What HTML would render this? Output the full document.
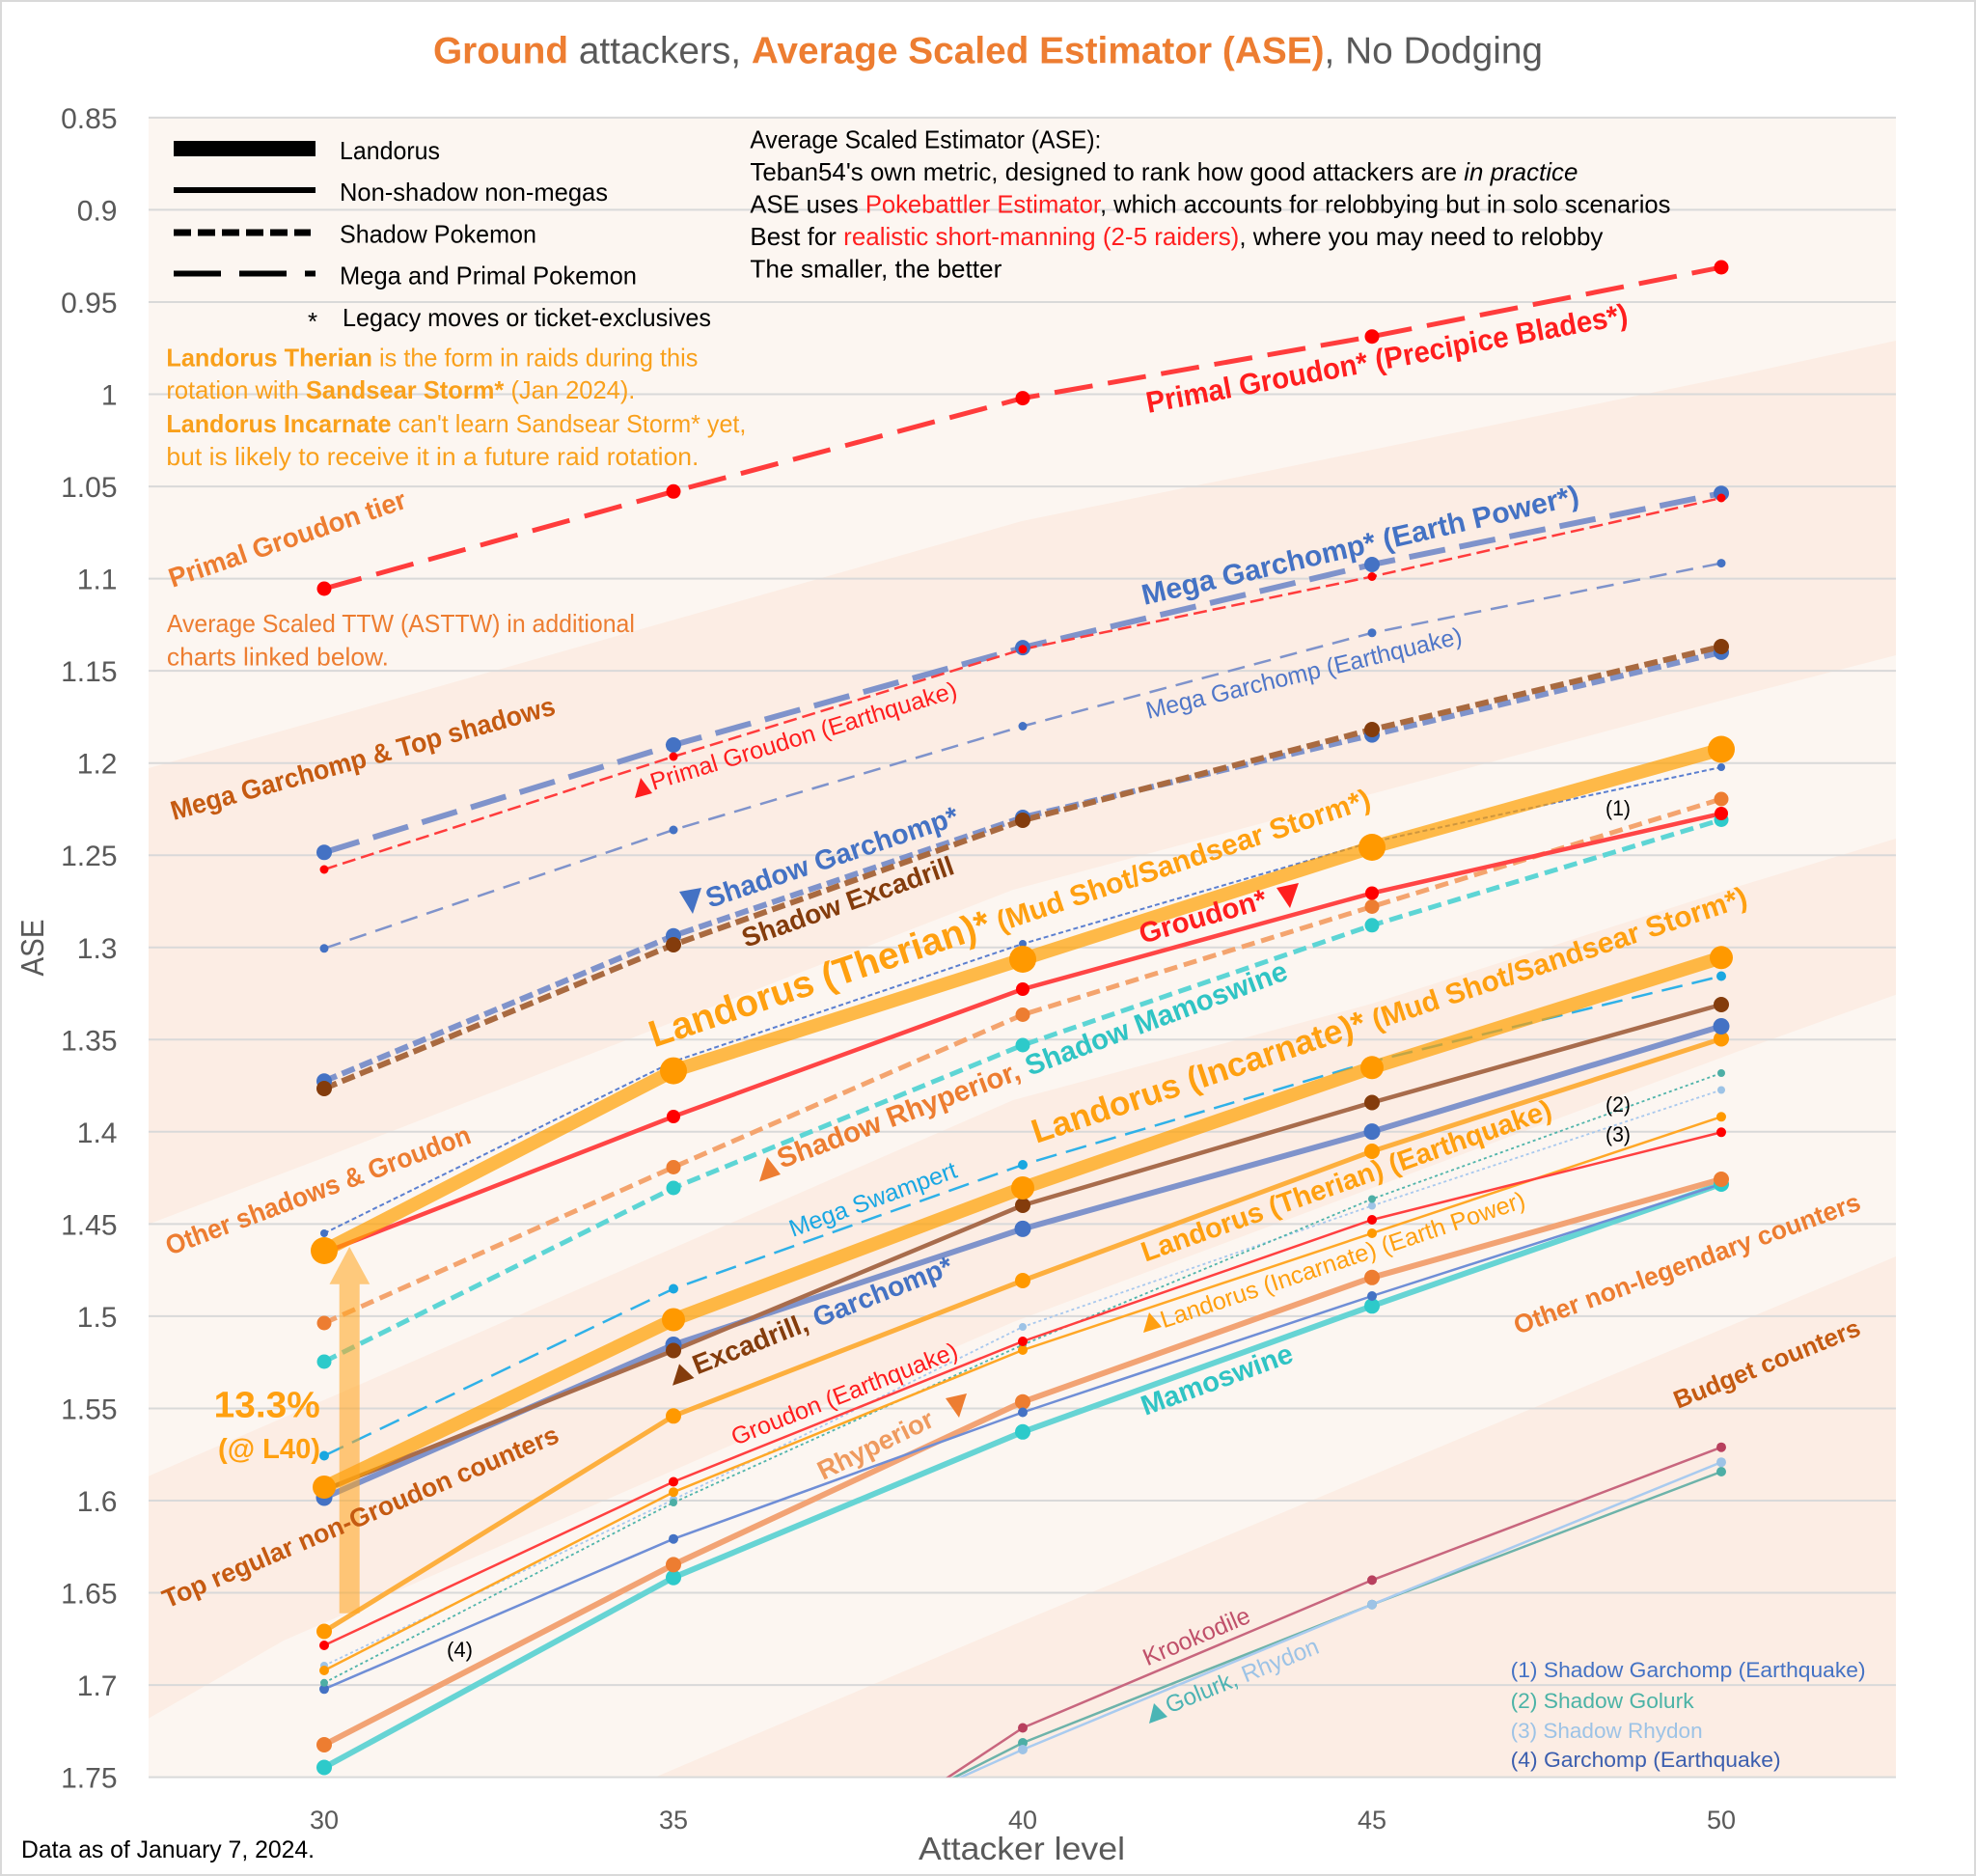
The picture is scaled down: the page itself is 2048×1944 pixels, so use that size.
<!DOCTYPE html>
<html><head><meta charset="utf-8"><style>
html,body{margin:0;padding:0;background:#fff;}
svg{display:block;}
</style></head><body>
<svg width="2048" height="1944" viewBox="0 0 2048 1944" xmlns="http://www.w3.org/2000/svg" font-family="'Liberation Sans', Arial, sans-serif">
<defs><clipPath id="pc"><rect x="154" y="121.9" width="1811" height="1719.7"/></clipPath></defs>
<rect x="1" y="1" width="2046" height="1942" fill="#fff" stroke="#D9D9D9" stroke-width="2"/>
<!-- plot bg -->
<rect x="154" y="121.9" width="1811" height="1719.7" fill="#FCF6F1"/>
<g fill="#FCEDE4" clip-path="url(#pc)">
<polygon points="154,796 340,744 1059,540 1800,389 1965,353 1965,679 1800,721.6 1050,922 340,1198 154,1268.5"/>
<polygon points="154,1529.6 340,1449 1050,1140 1422,1040 1800,919 1965,869 1965,1030.7 1800,1090 1050,1370 294,1700 154,1780.7"/>
<polygon points="679,1841.6 1012,1700 1050,1684 1800,1371 1965,1302 1965,1841.6"/>
</g>
<!-- gridlines -->
<g stroke="#D9D9D9" stroke-width="2">
<line x1="154" x2="1965" y1="121.9" y2="121.9"/><line x1="154" x2="1965" y1="217.4" y2="217.4"/><line x1="154" x2="1965" y1="313" y2="313"/><line x1="154" x2="1965" y1="408.5" y2="408.5"/><line x1="154" x2="1965" y1="504.1" y2="504.1"/><line x1="154" x2="1965" y1="599.6" y2="599.6"/><line x1="154" x2="1965" y1="695.1" y2="695.1"/><line x1="154" x2="1965" y1="790.7" y2="790.7"/><line x1="154" x2="1965" y1="886.2" y2="886.2"/><line x1="154" x2="1965" y1="981.8" y2="981.8"/><line x1="154" x2="1965" y1="1077.3" y2="1077.3"/><line x1="154" x2="1965" y1="1172.8" y2="1172.8"/><line x1="154" x2="1965" y1="1268.4" y2="1268.4"/><line x1="154" x2="1965" y1="1363.9" y2="1363.9"/><line x1="154" x2="1965" y1="1459.5" y2="1459.5"/><line x1="154" x2="1965" y1="1555" y2="1555"/><line x1="154" x2="1965" y1="1650.5" y2="1650.5"/><line x1="154" x2="1965" y1="1746.1" y2="1746.1"/><line x1="154" x2="1965" y1="1841.6" y2="1841.6"/>
</g>
<!-- y tick labels -->
<g font-size="30" fill="#595959" text-anchor="end">
<text x="121.5" y="132.9">0.85</text><text x="121.5" y="228.4">0.9</text><text x="121.5" y="324">0.95</text><text x="121.5" y="419.5">1</text><text x="121.5" y="515.1">1.05</text><text x="121.5" y="610.6">1.1</text><text x="121.5" y="706.1">1.15</text><text x="121.5" y="801.7">1.2</text><text x="121.5" y="897.2">1.25</text><text x="121.5" y="992.8">1.3</text><text x="121.5" y="1088.3">1.35</text><text x="121.5" y="1183.8">1.4</text><text x="121.5" y="1279.4">1.45</text><text x="121.5" y="1374.9">1.5</text><text x="121.5" y="1470.5">1.55</text><text x="121.5" y="1566">1.6</text><text x="121.5" y="1661.5">1.65</text><text x="121.5" y="1757.1">1.7</text><text x="121.5" y="1852.6">1.75</text>
</g>
<!-- x tick labels -->
<g font-size="27" fill="#595959" text-anchor="middle">
<text x="336" y="1895">30</text><text x="698" y="1895">35</text><text x="1060" y="1895">40</text><text x="1422" y="1895">45</text><text x="1784" y="1895">50</text>
</g>
<text x="1059" y="1927" font-size="33" fill="#595959" text-anchor="middle" textLength="214" lengthAdjust="spacingAndGlyphs">Attacker level</text>
<text transform="translate(45,982) rotate(-90)" font-size="33" fill="#595959" text-anchor="middle" textLength="59" lengthAdjust="spacingAndGlyphs">ASE</text>
<text x="22" y="1925" font-size="25" fill="#000" textLength="304" lengthAdjust="spacingAndGlyphs">Data as of January 7, 2024.</text>
<!-- title -->
<text x="449" y="65.5" font-size="38.5" textLength="1150" lengthAdjust="spacingAndGlyphs"><tspan font-weight="bold" fill="#ED7D31">Ground</tspan><tspan fill="#595959"> attackers, </tspan><tspan font-weight="bold" fill="#ED7D31">Average Scaled Estimator (ASE)</tspan><tspan fill="#595959">, No Dodging</tspan></text>

<!-- series -->
<g fill="none" stroke-linejoin="round" clip-path="url(#pc)">
<polyline points="698,2030 1060,1790.5 1422,1637.4 1784,1499.7" stroke="#C8667E" stroke-width="2.5"/>
<polyline points="698,1989 1060,1806 1422,1662.7 1784,1525" stroke="#6DB3AA" stroke-width="2.5"/>
<polyline points="698,1975 1060,1813 1422,1662.7 1784,1515.2" stroke="#A9CBEF" stroke-width="2.5"/>
<polyline points="336,1831.5 698,1634.7 1060,1483.8 1422,1353.3 1784,1227" stroke="#66D4D4" stroke-width="6"/>
<polyline points="336,1808 698,1621.4 1060,1452.7 1422,1323.8 1784,1222" stroke="#F2A374" stroke-width="6"/>
<polyline points="336,1750.3 698,1594.7 1060,1463.5 1422,1343 1784,1227" stroke="#6F8ED6" stroke-width="2.5"/>
<polyline points="336,1726 698,1554 1060,1375 1422,1249.5 1784,1129.5" stroke="#A8C8EE" stroke-width="1.8" stroke-dasharray="3 3"/>
<polyline points="336,1743.8 698,1557 1060,1393.6 1422,1242.5 1784,1112" stroke="#4FB4AA" stroke-width="1.8" stroke-dasharray="3 3"/>
<polyline points="336,1731 698,1546.2 1060,1399 1422,1278 1784,1157.3" stroke="#FFA726" stroke-width="2.5"/>
<polyline points="336,1705 698,1535.5 1060,1390 1422,1264 1784,1173.3" stroke="#FF4040" stroke-width="2.5"/>
<polyline points="336,1690.5 698,1467.3 1060,1327 1422,1193 1784,1076.5" stroke="#FDAF3E" stroke-width="5"/>
<polyline points="336,1552 698,1393.5 1060,1273.4 1422,1172.6 1784,1063.5" stroke="#7F93CB" stroke-width="6"/>
<polyline points="336,1544 698,1399.5 1060,1249 1422,1142.5 1784,1041" stroke="#A86C4C" stroke-width="4.5"/>
<polyline points="336,1508.5 698,1335.5 1060,1207 1422,1100 1784,1011.5" stroke="#2FB1E8" stroke-width="2.5" stroke-dasharray="22 10"/>
<polyline points="336,1541 698,1367.5 1060,1231 1422,1106.3 1784,992.3" stroke="#FFA000" stroke-opacity="0.7" stroke-width="14"/>
<polyline points="336,1411 698,1231 1060,1083 1422,958.8 1784,849.5" stroke="#5DD5D5" stroke-width="5" stroke-dasharray="14 7"/>
<polyline points="336,1371 698,1209.5 1060,1051.5 1422,939.5 1784,828" stroke="#F4A46E" stroke-width="5" stroke-dasharray="14 7"/>
<polyline points="336,1298 698,1157 1060,1025 1422,925.5 1784,843" stroke="#FF4545" stroke-width="4.5"/>
<polyline points="336,1278 698,1100 1060,978 1422,872.5 1784,795" stroke="#5B7FD0" stroke-width="2" stroke-dasharray="5 3"/>
<polyline points="336,1296 698,1109.6 1060,994 1422,878 1784,776.5" stroke="#FFA000" stroke-opacity="0.7" stroke-width="14"/>
<polyline points="336,1120.3 698,969.7 1060,847 1422,761.6 1784,675.9" stroke="#7F93CB" stroke-width="6" stroke-dasharray="14 6"/>
<polyline points="336,1128 698,979 1060,850 1422,756 1784,670" stroke="#A96A40" stroke-width="6" stroke-dasharray="14 6"/>
<polyline points="336,982.8 698,860 1060,752.5 1422,655.8 1784,583.6" stroke="#7F93CB" stroke-width="2.5" stroke-dasharray="18 10"/>
<polyline points="336,883.3 698,772 1060,671.1 1422,585 1784,511.2" stroke="#7F93CB" stroke-width="6" stroke-dasharray="38 15"/>
<polyline points="336,901 698,784 1060,672.8 1422,597.5 1784,516" stroke="#FF3C3C" stroke-width="2.5" stroke-dasharray="14 6"/>
<polyline points="336,610 698,509.3 1060,412.6 1422,348.7 1784,277" stroke="#FF3C3C" stroke-width="5" stroke-dasharray="40 16"/>
</g>
<!-- markers -->
<g clip-path="url(#pc)">
<g fill="#B8405E"><circle cx="1060" cy="1790.5" r="5"/><circle cx="1422" cy="1637.4" r="5"/><circle cx="1784" cy="1499.7" r="5"/></g>
<g fill="#4DAEA5"><circle cx="1060" cy="1806" r="5"/><circle cx="1422" cy="1662.7" r="5"/><circle cx="1784" cy="1525" r="5"/></g>
<g fill="#9DC3E6"><circle cx="1060" cy="1813" r="5"/><circle cx="1422" cy="1662.7" r="5"/><circle cx="1784" cy="1515.2" r="5"/></g>
<g fill="#2DCACA"><circle cx="336" cy="1831.5" r="8"/><circle cx="698" cy="1634.7" r="8"/><circle cx="1060" cy="1483.8" r="8"/><circle cx="1422" cy="1353.3" r="8"/><circle cx="1784" cy="1227" r="8"/></g>
<g fill="#ED7D31"><circle cx="336" cy="1808" r="8"/><circle cx="698" cy="1621.4" r="8"/><circle cx="1060" cy="1452.7" r="8"/><circle cx="1422" cy="1323.8" r="8"/><circle cx="1784" cy="1222" r="8"/></g>
<g fill="#4472C4"><circle cx="336" cy="1750.3" r="5"/><circle cx="698" cy="1594.7" r="5"/><circle cx="1060" cy="1463.5" r="5"/><circle cx="1422" cy="1343" r="5"/></g>
<g fill="#9DC3E6"><circle cx="336" cy="1726" r="4"/><circle cx="698" cy="1554" r="4"/><circle cx="1060" cy="1375" r="4"/><circle cx="1422" cy="1249.5" r="4"/><circle cx="1784" cy="1129.5" r="4"/></g>
<g fill="#4DAEA5"><circle cx="336" cy="1743.8" r="4"/><circle cx="698" cy="1557" r="4"/><circle cx="1060" cy="1393.6" r="4"/><circle cx="1422" cy="1242.5" r="4"/><circle cx="1784" cy="1112" r="4"/></g>
<g fill="#FF9900"><circle cx="336" cy="1731" r="5"/><circle cx="698" cy="1546.2" r="5"/><circle cx="1060" cy="1399" r="5"/><circle cx="1422" cy="1278" r="5"/><circle cx="1784" cy="1157.3" r="5"/></g>
<g fill="#FF0000"><circle cx="336" cy="1705" r="5"/><circle cx="698" cy="1535.5" r="5"/><circle cx="1060" cy="1390" r="5"/><circle cx="1422" cy="1264" r="5"/><circle cx="1784" cy="1173.3" r="5"/></g>
<g fill="#FF9900"><circle cx="336" cy="1690.5" r="8"/><circle cx="698" cy="1467.3" r="8"/><circle cx="1060" cy="1327" r="8"/><circle cx="1422" cy="1193" r="8"/><circle cx="1784" cy="1076.5" r="8"/></g>
<g fill="#4472C4"><circle cx="336" cy="1552" r="8.5"/><circle cx="698" cy="1393.5" r="8.5"/><circle cx="1060" cy="1273.4" r="8.5"/><circle cx="1422" cy="1172.6" r="8.5"/><circle cx="1784" cy="1063.5" r="8.5"/></g>
<g fill="#843C0C"><circle cx="336" cy="1544" r="8"/><circle cx="698" cy="1399.5" r="8"/><circle cx="1060" cy="1249" r="8"/><circle cx="1422" cy="1142.5" r="8"/><circle cx="1784" cy="1041" r="8"/></g>
<g fill="#1AA7E0"><circle cx="336" cy="1508.5" r="5"/><circle cx="698" cy="1335.5" r="5"/><circle cx="1060" cy="1207" r="5"/><circle cx="1784" cy="1011.5" r="5"/></g>
<g fill="#FF9900"><circle cx="336" cy="1541" r="12"/><circle cx="698" cy="1367.5" r="12"/><circle cx="1060" cy="1231" r="12"/><circle cx="1422" cy="1106.3" r="12"/><circle cx="1784" cy="992.3" r="12"/></g>
<g fill="#2DCACA"><circle cx="336" cy="1411" r="7.5"/><circle cx="698" cy="1231" r="7.5"/><circle cx="1060" cy="1083" r="7.5"/><circle cx="1422" cy="958.8" r="7.5"/><circle cx="1784" cy="849.5" r="7.5"/></g>
<g fill="#ED7D31"><circle cx="336" cy="1371" r="7.5"/><circle cx="698" cy="1209.5" r="7.5"/><circle cx="1060" cy="1051.5" r="7.5"/><circle cx="1422" cy="939.5" r="7.5"/><circle cx="1784" cy="828" r="7.5"/></g>
<g fill="#FF0000"><circle cx="336" cy="1298" r="7"/><circle cx="698" cy="1157" r="7"/><circle cx="1060" cy="1025" r="7"/><circle cx="1422" cy="925.5" r="7"/><circle cx="1784" cy="843" r="7"/></g>
<g fill="#4472C4"><circle cx="336" cy="1278" r="4"/><circle cx="698" cy="1100" r="4"/><circle cx="1060" cy="978" r="4"/><circle cx="1422" cy="872.5" r="4"/><circle cx="1784" cy="795" r="4"/></g>
<g fill="#FF9900"><circle cx="336" cy="1296" r="14"/><circle cx="698" cy="1109.6" r="14"/><circle cx="1060" cy="994" r="14"/><circle cx="1422" cy="878" r="14"/><circle cx="1784" cy="776.5" r="14"/></g>
<g fill="#4472C4"><circle cx="336" cy="1120.3" r="8"/><circle cx="698" cy="969.7" r="8"/><circle cx="1060" cy="847" r="8"/><circle cx="1422" cy="761.6" r="8"/><circle cx="1784" cy="675.9" r="8"/></g>
<g fill="#843C0C"><circle cx="336" cy="1128" r="8"/><circle cx="698" cy="979" r="8"/><circle cx="1060" cy="850" r="8"/><circle cx="1422" cy="756" r="8"/><circle cx="1784" cy="670" r="8"/></g>
<g fill="#4472C4"><circle cx="336" cy="982.8" r="4.5"/><circle cx="698" cy="860" r="4.5"/><circle cx="1060" cy="752.5" r="4.5"/><circle cx="1422" cy="655.8" r="4.5"/><circle cx="1784" cy="583.6" r="4.5"/></g>
<g fill="#4472C4"><circle cx="336" cy="883.3" r="8"/><circle cx="698" cy="772" r="8"/><circle cx="1060" cy="671.1" r="8"/><circle cx="1422" cy="585" r="8"/><circle cx="1784" cy="511.2" r="8"/></g>
<g fill="#FF0000"><circle cx="336" cy="901" r="4.5"/><circle cx="698" cy="784" r="4.5"/><circle cx="1060" cy="672.8" r="4.5"/><circle cx="1422" cy="597.5" r="4.5"/><circle cx="1784" cy="516" r="4.5"/></g>
<g fill="#FF0000"><circle cx="336" cy="610" r="7.5"/><circle cx="698" cy="509.3" r="7.5"/><circle cx="1060" cy="412.6" r="7.5"/><circle cx="1422" cy="348.7" r="7.5"/><circle cx="1784" cy="277" r="7.5"/></g>
</g>
<!-- big arrow -->
<polygon points="351.7,1671.7 372.7,1671.7 372.7,1330.8 383.3,1330.8 362.2,1292 341.5,1330.8 351.7,1330.8" fill="#FFA41B" fill-opacity="0.55"/>

<!-- legend -->
<rect x="180" y="146" width="147" height="16" fill="#000"/>
<line x1="180" x2="327" y1="197" y2="197" stroke="#000" stroke-width="6"/>
<line x1="180" x2="322" y1="241" y2="241" stroke="#000" stroke-width="7" stroke-dasharray="18 7"/>
<line x1="180" x2="327" y1="283.5" y2="283.5" stroke="#000" stroke-width="6" stroke-dasharray="49 19"/>
<g font-size="26" fill="#000">
<text x="352" y="165" textLength="104" lengthAdjust="spacingAndGlyphs">Landorus</text>
<text x="352" y="208" textLength="278" lengthAdjust="spacingAndGlyphs">Non-shadow non-megas</text>
<text x="352" y="251.5" textLength="204" lengthAdjust="spacingAndGlyphs">Shadow Pokemon</text>
<text x="352" y="294.5" textLength="308" lengthAdjust="spacingAndGlyphs">Mega and Primal Pokemon</text>
<text x="319" y="342">*</text>
<text x="355" y="338" textLength="382" lengthAdjust="spacingAndGlyphs">Legacy moves or ticket-exclusives</text>
</g>
<g font-size="26" fill="#F9A01B">
<text x="172.4" y="379.5" textLength="551" lengthAdjust="spacingAndGlyphs"><tspan font-weight="bold">Landorus Therian</tspan> is the form in raids during this</text>
<text x="172.4" y="413" textLength="486" lengthAdjust="spacingAndGlyphs">rotation with <tspan font-weight="bold">Sandsear Storm*</tspan> (Jan 2024).</text>
<text x="172.4" y="447.8" textLength="601" lengthAdjust="spacingAndGlyphs"><tspan font-weight="bold">Landorus Incarnate</tspan> can't learn Sandsear Storm* yet,</text>
<text x="172.4" y="482" textLength="552" lengthAdjust="spacingAndGlyphs">but is likely to receive it in a future raid rotation.</text>
</g>
<g font-size="26" fill="#ED7D31">
<text x="172.9" y="655" textLength="485" lengthAdjust="spacingAndGlyphs">Average Scaled TTW (ASTTW) in additional</text>
<text x="172.9" y="689.4" textLength="230" lengthAdjust="spacingAndGlyphs">charts linked below.</text>
</g>
<g font-size="26" fill="#000">
<text x="777.4" y="153.6" textLength="364" lengthAdjust="spacingAndGlyphs">Average Scaled Estimator (ASE):</text>
<text x="777.4" y="187" textLength="858" lengthAdjust="spacingAndGlyphs">Teban54's own metric, designed to rank how good attackers are <tspan font-style="italic">in practice</tspan></text>
<text x="777.4" y="220.5" textLength="954" lengthAdjust="spacingAndGlyphs">ASE uses <tspan fill="#FF1E1E">Pokebattler Estimator</tspan>, which accounts for relobbying but in solo scenarios</text>
<text x="777.4" y="254" textLength="884" lengthAdjust="spacingAndGlyphs">Best for <tspan fill="#FF1E1E">realistic short-manning (2-5 raiders)</tspan>, where you may need to relobby</text>
<text x="777.4" y="287.5" textLength="261" lengthAdjust="spacingAndGlyphs">The smaller, the better</text>
</g>

<!-- tier labels -->
<g font-weight="bold" font-size="28">
<text transform="translate(178.7,609) rotate(-18.8)" fill="#ED7D31" textLength="258" lengthAdjust="spacingAndGlyphs">Primal Groudon tier</text>
<text transform="translate(180,850) rotate(-15.5)" fill="#C55A11" textLength="412" lengthAdjust="spacingAndGlyphs">Mega Garchomp &amp; Top shadows</text>
<text transform="translate(176,1301) rotate(-20.5)" fill="#ED7D31" textLength="335" lengthAdjust="spacingAndGlyphs">Other shadows &amp; Groudon</text>
<text transform="translate(173.3,1666.7) rotate(-23)" fill="#C55A11" font-size="27" textLength="443" lengthAdjust="spacingAndGlyphs">Top regular non-Groudon counters</text>
<text transform="translate(1573,1383) rotate(-20)" fill="#ED7D31" font-size="27" textLength="380" lengthAdjust="spacingAndGlyphs">Other non-legendary counters</text>
<text transform="translate(1739,1460) rotate(-22)" fill="#C55A11" font-size="26" textLength="206" lengthAdjust="spacingAndGlyphs">Budget counters</text>
</g>

<!-- series labels -->
<text transform="translate(1190,428) rotate(-10.5)" font-weight="bold" font-size="31" fill="#FF1E1E" textLength="507" lengthAdjust="spacingAndGlyphs">Primal Groudon* (Precipice Blades*)</text>
<text transform="translate(1186,627) rotate(-13)" font-weight="bold" font-size="30" fill="#4472C4" textLength="464" lengthAdjust="spacingAndGlyphs">Mega Garchomp* (Earth Power*)</text>
<text transform="translate(1190,745) rotate(-13.5)" font-size="25" fill="#4F76C8" textLength="336" lengthAdjust="spacingAndGlyphs">Mega Garchomp (Earthquake)</text>
<polygon points="658,827 676,822 664,806" fill="#FF1E1E"/>
<text transform="translate(677,819) rotate(-17)" font-size="25" fill="#FF1E1E" textLength="331" lengthAdjust="spacingAndGlyphs">Primal Groudon (Earthquake)</text>
<polygon points="704,924 727,920 718,947" fill="#4472C4"/>
<text transform="translate(735.5,941) rotate(-18.5)" font-weight="bold" font-size="29" fill="#4472C4" textLength="274" lengthAdjust="spacingAndGlyphs">Shadow Garchomp*</text>
<text transform="translate(773,982) rotate(-19.5)" font-weight="bold" font-size="28" fill="#843C0C" textLength="231" lengthAdjust="spacingAndGlyphs">Shadow Excadrill</text>
<text transform="translate(678,1085.5) rotate(-18.5)" font-weight="bold" fill="#FFA010" textLength="785" lengthAdjust="spacingAndGlyphs"><tspan font-size="39">Landorus (Therian)*</tspan><tspan font-size="30"> (Mud Shot/Sandsear Storm*)</tspan></text>
<text transform="translate(1184,978) rotate(-16)" font-weight="bold" font-size="29.5" fill="#FF1E1E" textLength="136" lengthAdjust="spacingAndGlyphs">Groudon*</text>
<polygon points="1323,920 1346,915 1337,941" fill="#FF1E1E"/>
<polygon points="787,1224.5 809,1217 795,1199" fill="#ED7D31"/>
<text transform="translate(810,1211) rotate(-20.5)" font-weight="bold" font-size="29.5" textLength="562" lengthAdjust="spacingAndGlyphs"><tspan fill="#ED7D31">Shadow Rhyperior,</tspan><tspan fill="#30C4C4"> Shadow Mamoswine</tspan></text>
<text transform="translate(821.6,1282) rotate(-20)" font-size="25" fill="#19A7E3" textLength="183" lengthAdjust="spacingAndGlyphs">Mega Swampert</text>
<text transform="translate(1074,1185) rotate(-18.5)" font-weight="bold" fill="#FFA010" textLength="779" lengthAdjust="spacingAndGlyphs"><tspan font-size="35">Landorus (Incarnate)*</tspan><tspan font-size="30"> (Mud Shot/Sandsear Storm*)</tspan></text>
<text transform="translate(1187,1307.7) rotate(-19.5)" font-weight="bold" font-size="29" fill="#FFA010" textLength="449" lengthAdjust="spacingAndGlyphs">Landorus (Therian) (Earthquake)</text>
<polygon points="1185,1381 1204,1375 1191,1360" fill="#FFA010"/>
<text transform="translate(1206,1376.4) rotate(-18.5)" font-size="25" fill="#FFA010" textLength="397" lengthAdjust="spacingAndGlyphs">Landorus (Incarnate) (Earth Power)</text>
<polygon points="697,1435.7 719.5,1428 704,1413.4" fill="#843C0C"/>
<text transform="translate(722.5,1424.6) rotate(-21.5)" font-weight="bold" font-size="28.5" textLength="287" lengthAdjust="spacingAndGlyphs"><tspan fill="#843C0C">Excadrill,</tspan><tspan fill="#4472C4"> Garchomp*</tspan></text>
<text transform="translate(762,1498) rotate(-21.5)" font-size="25" fill="#FF1E1E" textLength="250" lengthAdjust="spacingAndGlyphs">Groudon (Earthquake)</text>
<text transform="translate(853,1534) rotate(-26)" font-weight="bold" font-size="27.5" fill="#EF9A5E" textLength="130" lengthAdjust="spacingAndGlyphs">Rhyperior</text>
<polygon points="980,1449 1002,1444 994,1469" fill="#ED7D31"/>
<text transform="translate(1187,1467) rotate(-20)" font-weight="bold" font-size="29" fill="#30C4C4" textLength="165" lengthAdjust="spacingAndGlyphs">Mamoswine</text>
<text transform="translate(1189,1726.5) rotate(-23)" font-size="25" fill="#C0506A" textLength="118" lengthAdjust="spacingAndGlyphs">Krookodile</text>
<polygon points="1191,1786 1210,1779 1196,1765" fill="#4BB5B5"/>
<text transform="translate(1212,1775.6) rotate(-22)" font-size="24.5" textLength="169" lengthAdjust="spacingAndGlyphs"><tspan fill="#4DB3B3">Golurk,</tspan><tspan fill="#9DC3E6"> Rhydon</tspan></text>

<!-- 13.3% -->
<text x="221.7" y="1468.3" font-weight="bold" font-size="38" fill="#FFA010" textLength="110" lengthAdjust="spacingAndGlyphs">13.3%</text>
<text x="226" y="1511" font-weight="bold" font-size="29" fill="#FFA010" textLength="106" lengthAdjust="spacingAndGlyphs">(@ L40)</text>

<!-- small markers -->
<g font-size="22" fill="#000">
<text x="1664" y="845" textLength="26" lengthAdjust="spacingAndGlyphs">(1)</text>
<text x="1664" y="1152" textLength="26" lengthAdjust="spacingAndGlyphs">(2)</text>
<text x="1664" y="1183" textLength="26" lengthAdjust="spacingAndGlyphs">(3)</text>
<text x="463" y="1717" textLength="27" lengthAdjust="spacingAndGlyphs">(4)</text>
</g>
<g font-size="22">
<text x="1565.6" y="1738" fill="#4472C4" textLength="368" lengthAdjust="spacingAndGlyphs">(1) Shadow Garchomp (Earthquake)</text>
<text x="1565.6" y="1770" fill="#4BB3A6" textLength="190" lengthAdjust="spacingAndGlyphs">(2) Shadow Golurk</text>
<text x="1565.6" y="1801" fill="#9DC3E6" textLength="199" lengthAdjust="spacingAndGlyphs">(3) Shadow Rhydon</text>
<text x="1565.6" y="1831" fill="#3B5EAE" textLength="280" lengthAdjust="spacingAndGlyphs">(4) Garchomp (Earthquake)</text>
</g>
</svg>
</body></html>
